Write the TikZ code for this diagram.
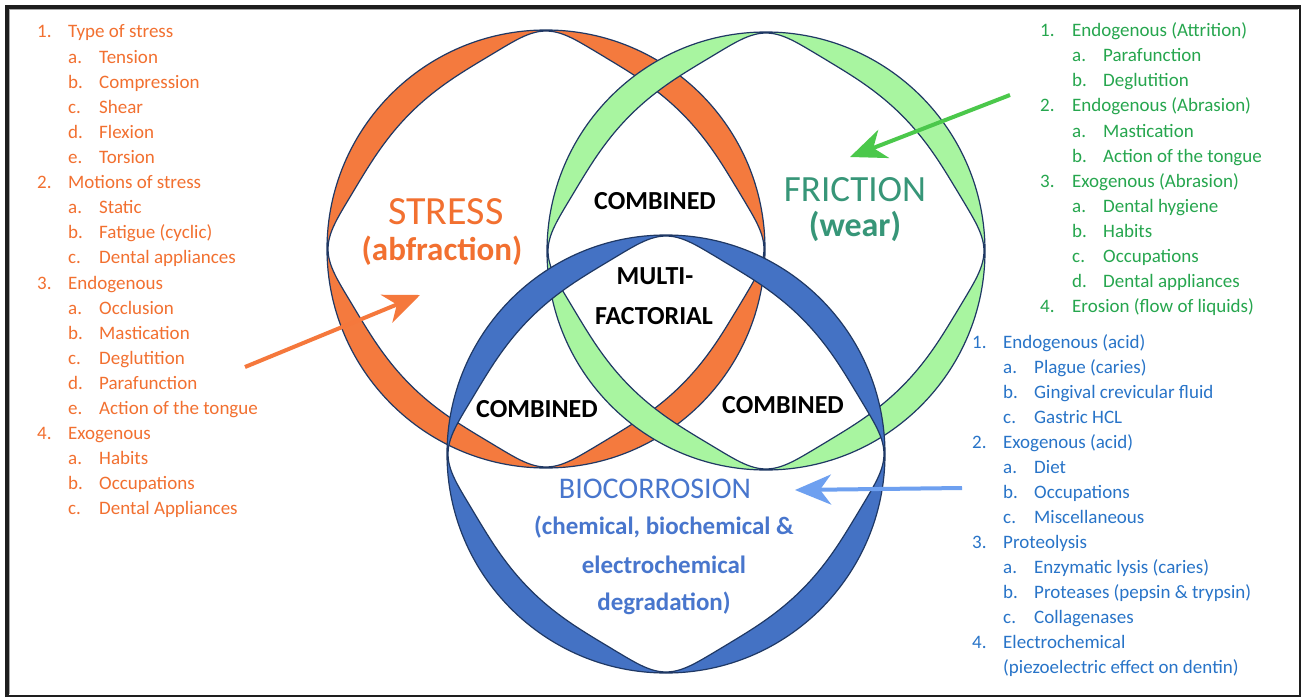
\documentclass[tikz,border=0pt]{standalone}
\usepackage{fontspec}
\setmainfont{Carlito}
\usetikzlibrary{arrows.meta}
\definecolor{otxt}{RGB}{242,112,48}
\definecolor{gtxt}{RGB}{38,166,78}
\definecolor{btxt}{RGB}{40,116,200}
\definecolor{ofill}{RGB}{244,122,62}
\definecolor{gfill}{RGB}{168,245,160}
\definecolor{bfill}{RGB}{68,114,196}
\definecolor{ringline}{RGB}{31,56,100}
\definecolor{frictc}{RGB}{55,150,120}
\definecolor{biotxt}{RGB}{72,118,205}
\definecolor{oarr}{RGB}{245,120,60}
\definecolor{garr}{RGB}{75,200,75}
\definecolor{barr}{RGB}{110,160,240}
\definecolor{framec}{RGB}{30,30,30}
\begin{document}
\begin{tikzpicture}[x=1pt,y=-1pt,
  declare function={sq(\t)=pow(sin(2*\t),2); rin(\t)=218-33.8*sq(\t)/(sq(\t)+0.3);},
  lst/.style={anchor=base west,inner sep=0pt,font=\fontsize{19}{19}\selectfont},
  big/.style={inner sep=0pt,anchor=center},
  arr/.style={line width=4pt,-{Stealth[length=36pt,width=30pt,inset=11pt]}},
  ringsty/.style={draw=ringline,line width=1.2pt,even odd rule}]
\useasboundingbox (0,0) rectangle (1303,698);
\fill[white] (0,0) rectangle (1303,698);
% frame
\draw[line width=4pt,framec] (7,697) -- (7,7) -- (1301,7);
\draw[line width=2.5pt,framec] (1300,7) -- (1300,696) -- (7,696);
\draw[line width=1pt,black!35] (9.5,694) -- (9.5,9.5) -- (1298,9.5);
% rings
\newcommand\myring[3]{%
  \filldraw[ringsty,fill=#3] (#1,#2) circle[radius=219]
    plot[domain=0:358,samples=180,smooth cycle] ({#1+rin(\x)*cos(\x)},{#2+rin(\x)*sin(\x)});}
\myring{546}{249}{ofill}
\myring{766}{251}{gfill}
\myring{666}{454}{bfill}
% big labels
\node[big,text=otxt,font=\fontsize{40}{40}\selectfont] (stress) at (446,212) {STRESS};
\node[big,text=otxt,font=\bfseries\fontsize{33}{33}\selectfont] (abfr) at (442,251) {(abfraction)};
\node[big,text=frictc,font=\fontsize{37}{37}\selectfont] (frict) at (855,190) {FRICTION};
\node[big,text=frictc,font=\bfseries\fontsize{34}{34}\selectfont] (wear) at (855,226) {(wear)};
\node[big,font=\bfseries\fontsize{26}{26}\selectfont] (comb1) at (655,201) {COMBINED};
\node[big,font=\bfseries\fontsize{26}{26}\selectfont] (multi) at (655,276) {MULTI-};
\node[big,font=\bfseries\fontsize{26}{26}\selectfont] (fact) at (654,316) {FACTORIAL};
\node[big,font=\bfseries\fontsize{26}{26}\selectfont] (comb2) at (537,409) {COMBINED};
\node[big,font=\bfseries\fontsize{26}{26}\selectfont] (comb3) at (783,405) {COMBINED};
\node[big,text=biotxt,font=\fontsize{30}{30}\selectfont] (bio) at (655,489) {BIOCORROSION};
\node[big,text=biotxt,font=\bfseries\fontsize{25}{25}\selectfont] (bio1) at (664,527) {(chemical, biochemical \&};
\node[big,text=biotxt,font=\bfseries\fontsize{25}{25}\selectfont] (bio2) at (664,565) {electrochemical};
\node[big,text=biotxt,font=\bfseries\fontsize{25}{25}\selectfont] (bio3) at (664,603) {degradation)};
% arrows
\coordinate (oa1) at (245,367); \coordinate (oa2) at (420,295);
\coordinate (ga1) at (1010,95); \coordinate (ga2) at (850,157);
\coordinate (ba1) at (962,488); \coordinate (ba2) at (795,490);
\draw[arr,oarr] (oa1) -- (oa2);
\draw[arr,garr] (ga1) -- (ga2);
\draw[arr,barr] (ba1) -- (ba2);
% orange list
\foreach \lv/\lb/\tx [count=\i] in {0/1./Type of stress,1/a./Tension,1/b./Compression,1/c./Shear,1/d./Flexion,1/e./Torsion,
  0/2./Motions of stress,1/a./Static,1/b./Fatigue (cyclic),1/c./Dental appliances,
  0/3./Endogenous,1/a./Occlusion,1/b./Mastication,1/c./Deglutition,1/d./Parafunction,1/e./Action of the tongue,
  0/4./Exogenous,1/a./Habits,1/b./Occupations,1/c./Dental Appliances}{
  \pgfmathsetmacro\yy{38+25.1*(\i-1)}
  \pgfmathsetmacro\xa{37+31*\lv}
  \pgfmathsetmacro\xb{68+31*\lv}
  \node[lst,text=otxt] (ol\i) at (\xa,\yy) {\lb};
  \node[lst,text=otxt] (ot\i) at (\xb,\yy) {\tx};
}
% green list
\foreach \lv/\lb/\tx [count=\i] in {0/1./Endogenous (Attrition),1/a./Parafunction,1/b./Deglutition,
  0/2./Endogenous (Abrasion),1/a./Mastication,1/b./Action of the tongue,
  0/3./Exogenous (Abrasion),1/a./Dental hygiene,1/b./Habits,1/c./Occupations,1/d./Dental appliances,
  0/4./Erosion (flow of liquids)}{
  \pgfmathsetmacro\yy{36.7+25.1*(\i-1)}
  \pgfmathsetmacro\xa{1040+32*\lv}
  \pgfmathsetmacro\xb{1072+31*\lv}
  \node[lst,text=gtxt] (gl\i) at (\xa,\yy) {\lb};
  \node[lst,text=gtxt] (gt\i) at (\xb,\yy) {\tx};
}
% blue list
\foreach \lv/\lb/\tx [count=\i] in {0/1./Endogenous (acid),1/a./Plague (caries),1/b./Gingival crevicular fluid,1/c./Gastric HCL,
  0/2./Exogenous (acid),1/a./Diet,1/b./Occupations,1/c./Miscellaneous,
  0/3./Proteolysis,1/a./Enzymatic lysis (caries),1/b./Proteases (pepsin \& trypsin),1/c./Collagenases,
  0/4./Electrochemical,0//(piezoelectric effect on dentin)}{
  \pgfmathsetmacro\yy{348+25*(\i-1)}
  \pgfmathsetmacro\xa{972+31*\lv}
  \pgfmathsetmacro\xb{1003+31*\lv}
  \node[lst,text=btxt] (bl\i) at (\xa,\yy) {\lb};
  \node[lst,text=btxt] (bt\i) at (\xb,\yy) {\tx};
}
\end{tikzpicture}
\end{document}
